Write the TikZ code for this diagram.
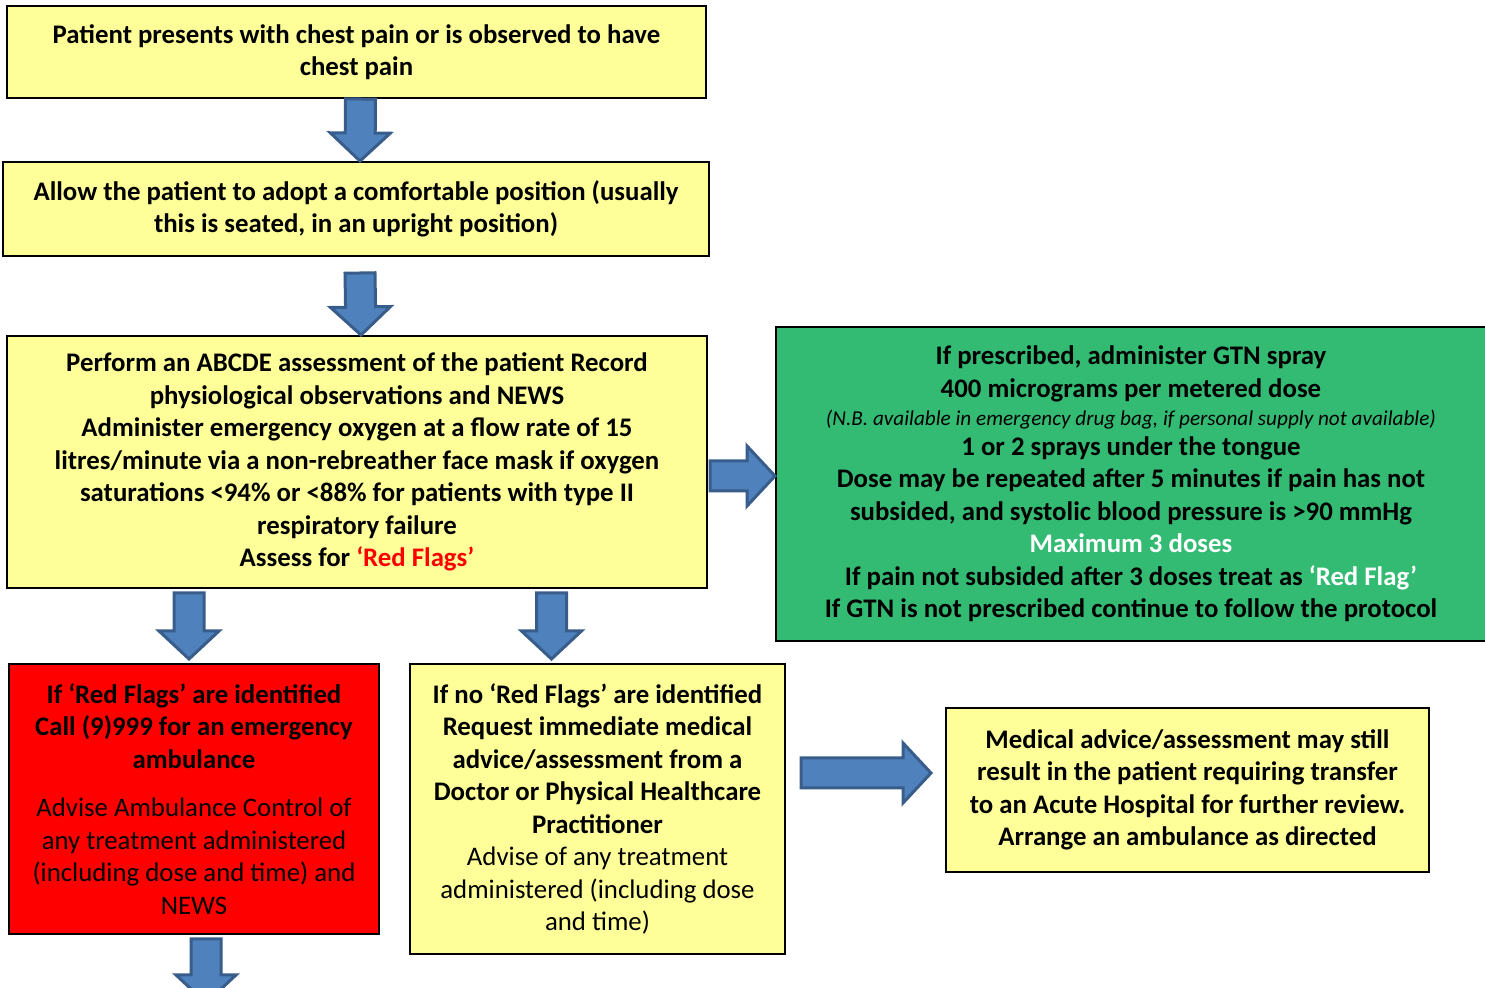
\documentclass[tikz,border=0pt]{standalone}
\usepackage{fontspec}
\setmainfont{Carlito}
\usetikzlibrary{positioning, calc}

\definecolor{boxyellow}{RGB}{255,255,153}
\definecolor{boxgreen}{RGB}{51,187,115}
\definecolor{boxred}{RGB}{255,0,0}
\definecolor{arrowfill}{RGB}{79,129,189}
\definecolor{arrowline}{RGB}{56,93,138}

\newdimen\px
\px=0.5pt
\newcommand{\plaintxt}{\normalfont\fontsize{13.4}{16.25}\selectfont}
\newcommand{\notetxt}{\normalfont\itshape\fontsize{10.6}{16.25}\selectfont}

% block arrow from #1 to #2 (coordinate names)
\newcommand{\blockarrow}[2]{%
  \draw [blockarrow] ($(#1)!15\px!90:(#2)$) -- ($(#2)!28\px!(#1)!15\px!-90:(#1)$)
    -- ($(#2)!28\px!(#1)!30\px!-90:(#1)$) -- (#2)
    -- ($(#2)!28\px!(#1)!30\px!90:(#1)$) -- ($(#2)!28\px!(#1)!15\px!90:(#1)$)
    -- ($(#1)!15\px!-90:(#2)$) -- cycle;}

\begin{document}
\begin{tikzpicture}[
    x=0.5pt, y=-0.5pt,
    base/.style={rectangle, draw, line width=1pt, align=center, inner sep=0pt, font=\bfseries\fontsize{13.4}{16.25}\selectfont},
    yellowbox/.style={base, fill=boxyellow},
    greenbox/.style={base, fill=boxgreen},
    redbox/.style={base, fill=boxred},
    blockarrow/.style={fill=arrowfill, draw=arrowline, line width=1.5pt, line join=miter}
]
    \useasboundingbox (0,0) rectangle (1485,988);

    % --- MAIN COLUMN ---
    \node (start) [yellowbox, minimum width=699\px, minimum height=92\px] at (356.5,52)
        {Patient presents with chest pain or is observed to have\\chest pain};
    \node (comfort) [yellowbox, minimum width=706\px, minimum height=94\px] at (356,209)
        {Allow the patient to adopt a comfortable position (usually\\this is seated, in an upright position)};
    \node (abcde) [yellowbox, minimum width=700\px, minimum height=252\px] at (357,462)
        {Perform an ABCDE assessment of the patient Record\\physiological observations and NEWS\\
         Administer emergency oxygen at a flow rate of 15\\litres/minute via a non-rebreather face mask if oxygen\\
         saturations <94\% or <88\% for patients with type II\\respiratory failure\\
         Assess for {\color{boxred}‘Red Flags’}};

    % --- GTN ---
    \node (gtn) [greenbox, minimum width=710\px, minimum height=314\px] at (1131,484)
        {If prescribed, administer GTN spray\\400 micrograms per metered dose\\[-2pt]
         \notetxt (N.B. available in emergency drug bag, if personal supply not available)\\[-1.5pt]
         1 or 2 sprays under the tongue\\Dose may be repeated after 5 minutes if pain has not\\
         subsided, and systolic blood pressure is >90 mmHg\\{\color{white}Maximum 3 doses}\\
         If pain not subsided after 3 doses treat as {\color{white}‘Red Flag’}\\
         If GTN is not prescribed continue to follow the protocol};

    % --- OUTCOMES ---
    \node (redflag) [redbox, minimum width=370\px, minimum height=270\px] at (194,799)
        {If ‘Red Flags’ are identified\\Call (9)999 for an emergency\\ambulance\\[8pt]
         \plaintxt Advise Ambulance Control of\\\plaintxt any treatment administered\\
         \plaintxt (including dose and time) and\\\plaintxt NEWS};
    \node (noflag) [yellowbox, minimum width=375\px, minimum height=290\px] at (597.5,809)
        {If no ‘Red Flags’ are identified\\Request immediate medical\\advice/assessment from a\\
         Doctor or Physical Healthcare\\Practitioner\\
         \plaintxt Advise of any treatment\\\plaintxt administered (including dose\\\plaintxt and time)};
    \node (transfer) [yellowbox, minimum width=483\px, minimum height=164\px] at (1187.5,790)
        {Medical advice/assessment may still\\result in the patient requiring transfer\\
         to an Acute Hospital for further review.\\Arrange an ambulance as directed};

    % --- ARROW ENDS ---
    \coordinate (a1s) at ([xshift=2pt]start.south);
    \coordinate (a1e) at ([xshift=2pt]comfort.north);
    \coordinate (a2s) at ([xshift=2pt, yshift=-8pt]comfort.south);
    \coordinate (a2e) at ([xshift=2pt]abcde.north);
    \coordinate (r1s) at ([xshift=1pt, yshift=-7pt]abcde.east);
    \coordinate (r1e) at (gtn.west |- r1s);
    \coordinate (d1s) at ([xshift=-2.5pt, yshift=-2pt]redflag.north |- abcde.south);
    \coordinate (d1e) at ([xshift=-2.5pt, yshift=2pt]redflag.north);
    \coordinate (d2s) at ([xshift=-23pt, yshift=-2pt]noflag.north |- abcde.south);
    \coordinate (d2e) at ([xshift=-23pt, yshift=2pt]noflag.north);
    \coordinate (r2s) at ([xshift=7.5pt, yshift=18pt]noflag.east);
    \coordinate (r2e) at ([xshift=-7pt]transfer.west |- r2s);
    \coordinate (d3s) at ([xshift=6pt, yshift=-2pt]redflag.south);
    \coordinate (d3e) at ([yshift=-32pt]d3s);

    % --- DRAW CONNECTIONS ---
    \blockarrow{a1s}{a1e}
    \blockarrow{a2s}{a2e}
    \blockarrow{r1s}{r1e}
    \blockarrow{d1s}{d1e}
    \blockarrow{d2s}{d2e}
    \blockarrow{r2s}{r2e}
    \blockarrow{d3s}{d3e}

\end{tikzpicture}
\end{document}
